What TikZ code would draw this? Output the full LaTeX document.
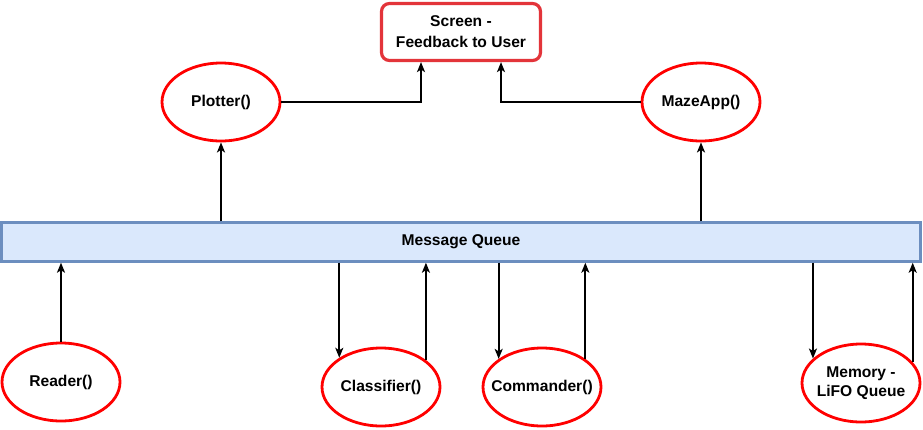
\documentclass[tikz,border=0pt]{standalone}
\usepackage{fontspec}
\setmainfont{Liberation Sans}
\usetikzlibrary{shapes.geometric,arrows.meta,calc}
\definecolor{ellred}{HTML}{FF0000}
\definecolor{boxred}{HTML}{E3343A}
\definecolor{qfill}{HTML}{DAE8FC}
\definecolor{qdraw}{HTML}{6C8EBF}
\tikzset{
  proc/.style={ellipse, draw=ellred, line width=2.8pt, fill=white, minimum width=118pt, minimum height=78pt, inner xsep=-16pt, inner ysep=-4pt, align=center, font=\fontsize{15.6}{19.5}\selectfont\bfseries},
  screenbox/.style={rectangle, rounded corners=8pt, draw=boxred, line width=3.2pt, fill=white, minimum width=159pt, minimum height=57pt, inner sep=0pt, align=center, font=\fontsize{15.6}{21}\selectfont\bfseries},
  queue/.style={rectangle, draw=qdraw, line width=2.4pt, fill=qfill, minimum width=919pt, minimum height=39pt, inner sep=0pt, font=\fontsize{15.6}{19.5}\selectfont\bfseries},
  arr/.style={draw=black, line width=1.8pt, -{Stealth[length=10pt,width=8pt,inset=2.5pt]}},
}
\begin{document}
\begin{tikzpicture}[x=1pt,y=-1pt]
\useasboundingbox (0,0) rectangle (923,429);
\node[screenbox] (screen) at (461,32) {Screen -\\Feedback to User};
\node[proc] (plotter) at (221,102) {Plotter()};
\node[proc] (maze) at (701,102) {MazeApp()};
\node[queue] (mq) at (461,242) {Message Queue};
\node[proc] (reader) at (61,382) {Reader()};
\node[proc] (classifier) at (381,387) {Classifier()};
\node[proc] (commander) at (542,387) {Commander()};
\node[proc] (memory) at (861,383) {Memory -\\LiFO Queue};

\draw[arr] (plotter.east) -| ($(screen.south)+(-40,0)$);
\draw[arr] (maze.west) -| ($(screen.south)+(40,0)$);
\draw[arr] (mq.north -| plotter.south) -- (plotter.south);
\draw[arr] (mq.north -| maze.south) -- (maze.south);
\draw[arr] (reader.north) -- (mq.south -| reader.north);
\draw[arr] (mq.south -| classifier.145) -- (classifier.145);
\draw[arr] (classifier.31) -- (mq.south -| classifier.31);
\draw[arr] (mq.south -| commander.147.5) -- (commander.147.5);
\draw[arr] (commander.33) -- (mq.south -| commander.33);
\draw[arr] (mq.south -| memory.153) -- (memory.153);
\draw[arr] (memory.22) -- (mq.south -| memory.22);
\end{tikzpicture}
\end{document}
